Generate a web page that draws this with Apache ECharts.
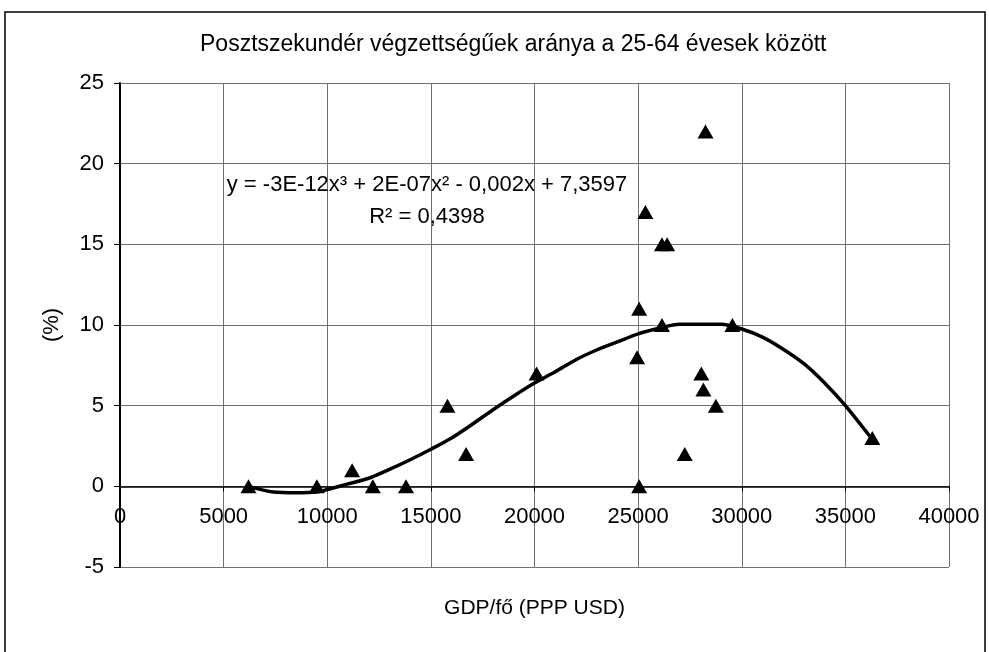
<!DOCTYPE html>
<html>
<head>
<meta charset="utf-8">
<script src="https://cdn.jsdelivr.net/npm/echarts@6/dist/echarts.min.js"></script>
<style>
html,body{margin:0;padding:0;background:#fff;}
#chart{width:989px;height:652px;}
</style>
</head>
<body>
<div id="chart"></div>
<script>
// pontok: GDP/fő (PPP USD) es arany (%)
var gdp = [6200, 9500, 11200, 12200, 13800, 15800, 16700, 20100, 24950, 25050, 25050, 25350, 26150, 26150, 26400, 27250, 28050, 28150, 28250, 28750, 29550, 36300];
var pct = [0, 0, 1, 0, 0, 5, 2, 7, 8, 11, 0, 17, 15, 10, 15, 2, 7, 6, 22, 5, 10, 3];

// trendvonal, leolvasva a kepről
var trendX = [6200, 7400, 8500, 9500, 10000, 11000, 12000, 13000, 14000, 15000, 16000, 17000, 18000, 19000, 20000, 21000, 22000, 23000, 24000, 25000, 26000, 27000, 28000, 29000, 30000, 31000, 32000, 33000, 34000, 35000, 36300];
var trendY = [0, -0.35, -0.4, -0.35, -0.2, 0.15, 0.5, 1.05, 1.65, 2.3, 3.0, 3.85, 4.75, 5.6, 6.4, 7.1, 7.85, 8.45, 8.95, 9.45, 9.8, 10.05, 10.05, 10.05, 9.75, 9.25, 8.5, 7.6, 6.4, 5.0, 2.9];

var titleText = 'Posztszekundér végzettségűek aránya a 25-64 évesek között';
var eqText = 'y = -3E-12x³ + 2E-07x² - 0,002x + 7,3597';
var r2Text = 'R² = 0,4398';

var font = 'Liberation Sans, Arial, sans-serif';

var points = [];
for (var i = 0; i < gdp.length; i++) {
	points.push([gdp[i], pct[i]]);
}
var trend = [];
for (var j = 0; j < trendX.length; j++) {
	trend.push([trendX[j], trendY[j]]);
}

var myChart = echarts.init(document.getElementById('chart'));
var option = {
	animation: false,
	backgroundColor: '#fff',
	title: {
		text: titleText,
		left: 195,
		top: 28,
		textStyle: {fontFamily: font, fontSize: 23, fontWeight: 'normal', color: '#000'}
	},
	grid: {left: 120, right: 40, top: 83, bottom: 85, containLabel: false, outerBoundsMode: 'none'},
	xAxis: {
		type: 'value',
		min: 0, max: 40000, interval: 5000,
		offset: -80.7,   // tengely a 0 vonalon, feliratokkal egyutt
		name: 'GDP/fő (PPP USD)',
		nameLocation: 'middle',
		nameGap: 111,
		nameTextStyle: {fontFamily: font, fontSize: 21, color: '#000'},
		axisLine: {onZero: false, lineStyle: {color: '#000', width: 1.5}},
		axisTick: {show: true, length: 5, lineStyle: {color: '#000'}},
		axisLabel: {fontFamily: font, fontSize: 22, color: '#000', margin: 20, formatter: function(v){ return String(v); }},
		splitLine: {show: true, lineStyle: {color: '#707070', width: 1}}
	},
	yAxis: {
		type: 'value',
		min: -5, max: 25, interval: 5,
		name: '(%)',
		nameLocation: 'middle',
		nameGap: 57,
		nameTextStyle: {fontFamily: font, fontSize: 22, color: '#000'},
		axisLine: {show: true, onZero: false, lineStyle: {color: '#000', width: 2}},
		axisTick: {show: true, length: 6, lineStyle: {color: '#000'}},
		axisLabel: {fontFamily: font, fontSize: 22, color: '#000', margin: 16},
		splitLine: {show: true, lineStyle: {color: '#707070', width: 1}}
	},
	graphic: [
		{type: 'rect', shape: {x: 5, y: 12, width: 980, height: 660}, style: {fill: 'none', stroke: '#000', lineWidth: 1.5}, silent: true},
		{type: 'text', x: 427, y: 185, style: {text: eqText, font: '22px ' + font, fill: '#000', textAlign: 'center', textVerticalAlign: 'middle'}, z: 10},
		{type: 'text', x: 427, y: 217, style: {text: r2Text, font: '22px ' + font, fill: '#000', textAlign: 'center', textVerticalAlign: 'middle'}, z: 10}
	],
	series: [
		{
			type: 'line',
			data: trend,
			smooth: 0.3,
			showSymbol: false,
			lineStyle: {color: '#000', width: 3.5},
			z: 3
		},
		{
			type: 'scatter',
			data: points,
			symbol: 'triangle',
			symbolSize: [16, 14],
			itemStyle: {color: '#000', opacity: 1},
			z: 4
		}
	]
};
myChart.setOption(option, true);
</script>
</body>
</html>
